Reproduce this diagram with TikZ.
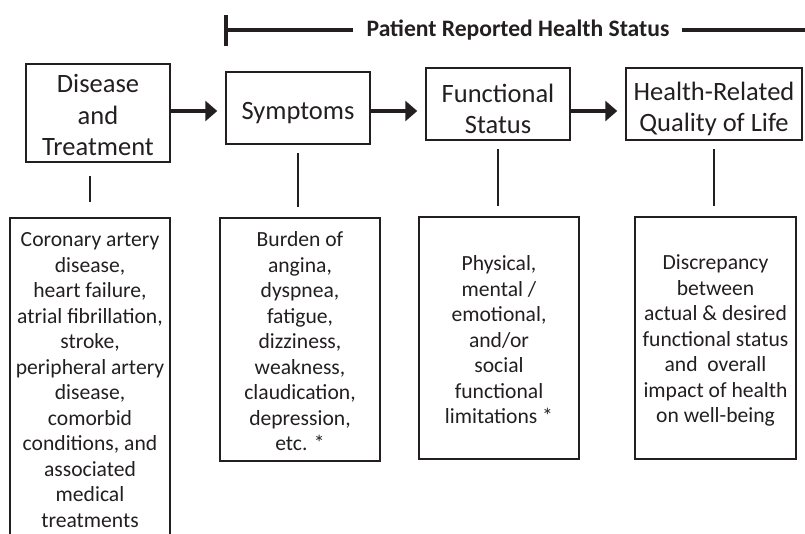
\documentclass[tikz,border=0pt]{standalone}
\usepackage{fontspec}
\setmainfont{Carlito}
\usetikzlibrary{arrows.meta}
\definecolor{ink}{HTML}{231F20}
\tikzset{
  box/.style={draw=ink, line width=1.5pt, inner sep=0pt},
  headtext/.style={text=ink, align=center, inner sep=0pt, font=\fontsize{26.5}{31.5}\selectfont},
  lowtext/.style={text=ink, align=center, inner sep=0pt, font=\fontsize{21.6}{25.5}\selectfont},
  titletext/.style={text=ink, inner sep=0pt, font=\fontsize{23.6}{28}\selectfont\bfseries},
  brk/.style={draw=ink, line width=3.5pt},
  vline/.style={draw=ink, line width=1.6pt},
  arr/.style={draw=ink, line width=3.5pt, -{Triangle[length=12pt,width=20pt]}}
}
\begin{document}
\begin{tikzpicture}[x=1pt,y=-1pt]
\useasboundingbox (0,0) rectangle (805,533);
% title bracket
\node[titletext] (t) at (518,30) {Patient Reported Health Status};
\coordinate (tick) at (226,30);
\coordinate (rend) at (806,30);
\draw[brk] ([xshift=-13pt]t.west) -- (tick);
\draw[brk] ([yshift=-16pt]tick) -- ([yshift=15pt]tick);
\draw[brk] ([xshift=12pt]t.east) -- (rend);
% heading boxes
\node[box, minimum width=144pt, minimum height=98pt] (h1) at (98,113) {};
\node[box, minimum width=144pt, minimum height=72pt] (h2) at (298,108) {};
\node[box, minimum width=144pt, minimum height=72pt] (h3) at (498,104) {};
\node[box, minimum width=176pt, minimum height=72pt] (h4) at (714,104) {};
\node[headtext] (h1t) at ([yshift=-2pt]h1.center) {Disease\\and\\Treatment};
\node[headtext] (h2t) at ([yshift=-5pt]h2.center) {Symptoms};
\node[headtext] (h3t) at ([yshift=-5pt]h3.center) {Functional\\Status};
\node[headtext] (h4t) at ([yshift=-5pt]h4.center) {Health-Related\\Quality of Life};
% arrows
\coordinate (ay) at (0,111);
\draw[arr] (h1.east |- ay) -- ([xshift=-8pt]h2.west |- ay);
\draw[arr] (h2.east |- ay) -- ([xshift=-8pt]h3.west |- ay);
\draw[arr] (h3.east |- ay) -- ([xshift=-8pt]h4.west |- ay);
% lower boxes
\node[box, minimum width=160pt, minimum height=322pt] (l1) at (90,379) {};
\node[box, minimum width=160pt, minimum height=243pt] (l2) at (300,339.5) {};
\node[box, minimum width=160pt, minimum height=242pt] (l3) at (499,338) {};
\node[box, minimum width=161pt, minimum height=242pt] (l4) at (715.5,338) {};
\node[lowtext] (l1t) at ([yshift=-1pt]l1.center) {Coronary artery\\disease,\\heart failure,\\atrial fibrillation,\\stroke,\\peripheral artery\\disease,\\comorbid\\conditions, and\\associated\\medical\\treatments};
\node[lowtext] (l2t) at ([yshift=-2pt]l2.center) {Burden of\\angina,\\dyspnea,\\fatigue,\\dizziness,\\weakness,\\claudication,\\depression,\\etc. *};
\node[lowtext] (l3t) at ([yshift=-2pt]l3.center) {Physical,\\mental /\\emotional,\\and/or\\social\\functional\\limitations *};
\node[lowtext] (l4t) at ([yshift=-2.5pt]l4.center) {Discrepancy\\between\\actual \& desired\\functional status\\and\ \ overall\\impact of health\\on well-being};
% vertical connectors
\draw[vline] ([yshift=-13pt]h1.south -| l1.north) -- ([yshift=15pt]l1.north);
\draw[vline] ([yshift=-8pt]h2.south) -- ([yshift=10pt]h2.south |- l2.north);
\draw[vline] ([yshift=-8pt]h3.south) -- ([yshift=10pt]h3.south |- l3.north);
\draw[vline] ([yshift=-8pt]h4.south) -- ([yshift=10pt]h4.south |- l4.north);
\end{tikzpicture}
\end{document}
